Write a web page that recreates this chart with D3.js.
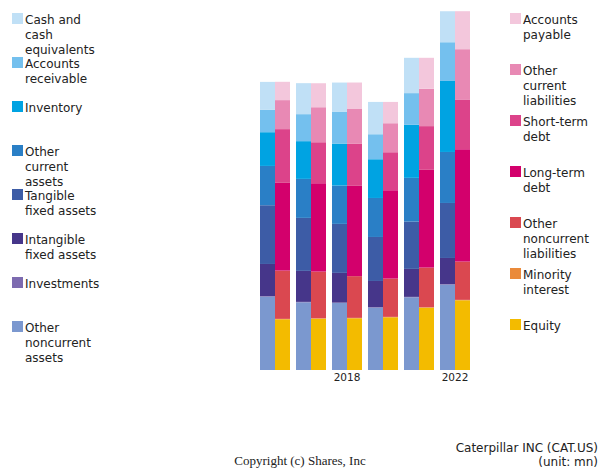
<!DOCTYPE html>
<html>
<head>
<meta charset="utf-8">
<script src="https://cdn.jsdelivr.net/npm/d3@7"></script>
<style>
body { margin: 0; background: #fff; }
svg { display: block; font-family: "DejaVu Sans", sans-serif; }
</style>
</head>
<body>
<script>
var categories = ["p1", "p2", "p3", "p4", "p5", "p6"];
var tickLabels = ["", "", "2018", "", "", "2022"];

// assets, bottom to top (mn)
var otherNoncurrentAssets = [18330, 16930, 16750, 15580, 18180, 21330];
var investments = [100, 100, 100, 100, 100, 100];
var intangibleFixedAssets = [8080, 7750, 7430, 6580, 7000, 6580];
var tangibleFixedAssets = [14680, 13250, 12250, 11000, 11830, 13750];
var otherCurrentAssets = [9830, 9750, 9580, 9750, 10930, 12750];
var inventory = [8430, 9430, 10500, 9680, 13250, 17750];
var accountsReceivable = [5580, 6750, 8000, 6250, 7930, 9680];
var cashAndEquivalents = [7000, 7750, 7250, 8080, 8830, 7750];

// liabilities and equity, bottom to top (mn)
var equity = [12680, 12830, 12930, 13180, 15580, 17430];
var minorityInterest = [100, 100, 100, 100, 100, 100];
var otherNoncurrentLiabilities = [12080, 11680, 10430, 9580, 9930, 9580];
var longTermDebt = [21930, 22080, 22580, 22080, 24430, 28080];
var shortTermDebt = [13430, 10250, 10500, 9500, 10930, 12330];
var otherCurrentLiabilities = [7250, 8750, 8830, 7250, 9330, 12680];
var accountsPayable = [4580, 6000, 6500, 5330, 7750, 9500];

var assetNames = ["Other\nnoncurrent\nassets", "Investments", "Intangible\nfixed assets", "Tangible\nfixed assets", "Other\ncurrent\nassets", "Inventory", "Accounts\nreceivable", "Cash and\ncash\nequivalents"];
var assetSeries = [otherNoncurrentAssets, investments, intangibleFixedAssets, tangibleFixedAssets, otherCurrentAssets, inventory, accountsReceivable, cashAndEquivalents];
var assetColors = ["#7b98cf", "#7d6bb0", "#46368a", "#3d5ca6", "#2a7fc6", "#00a3e2", "#74c0ee", "#c0e0f6"];

var liabNames = ["Equity", "Minority\ninterest", "Other\nnoncurrent\nliabilities", "Long-term\ndebt", "Short-term\ndebt", "Other\ncurrent\nliabilities", "Accounts\npayable"];
var liabSeries = [equity, minorityInterest, otherNoncurrentLiabilities, longTermDebt, shortTermDebt, otherCurrentLiabilities, accountsPayable];
var liabColors = ["#f3bb00", "#ea8a3a", "#da4850", "#d3006c", "#dc438a", "#e889b4", "#f3c7dc"];

function drawChart(){
	var svg = d3.select("body").append("svg").attr("width", 600).attr("height", 470);

	var x = d3.scaleBand().domain(categories).range([260, 470]).paddingInner(1 / 6).paddingOuter(0);
	var y = d3.scaleLinear().domain([0, 89500]).range([370, 12]);
	var half = x.bandwidth() / 2;

	function drawStack(series, colors, offset){
		var rows = categories.map(function(c, i){
			var r = { cat: c };
			series.forEach(function(s, k){ r["s" + k] = s[i]; });
			return r;
		});
		var keys = series.map(function(s, k){ return "s" + k; });
		var stacked = d3.stack().keys(keys)(rows);

		svg.append("g").selectAll("g").data(stacked).enter().append("g")
			.style("fill", function(d, k){ return colors[k]; })
			.selectAll("rect").data(function(d){ return d; }).enter().append("rect")
			.attr("x", function(d){ return x(d.data.cat) + offset; })
			.attr("width", half)
			.attr("y", function(d){ return y(d[1]); })
			.attr("height", function(d){ return y(d[0]) - y(d[1]); });
	}

	drawStack(assetSeries, assetColors, 0);
	drawStack(liabSeries, liabColors, half);

	var axis = d3.axisBottom(x).tickSize(0).tickPadding(4)
		.tickFormat(function(d, i){ return tickLabels[i]; });
	var axisG = svg.append("g").attr("transform", "translate(0,370)").call(axis);
	axisG.select(".domain").remove();
	axisG.selectAll("text").style("font-family", "DejaVu Sans, sans-serif").style("font-size", "10.5px").style("fill", "#222");

	function drawLegend(names, colors, left, top, step){
		var items = names.slice().reverse();
		var cols = colors.slice().reverse();
		var g = svg.append("g");
		items.forEach(function(name, i){
			var ty = top + i * step;
			g.append("rect").attr("x", left).attr("y", ty).attr("width", 11).attr("height", 11).style("fill", cols[i]);
			var t = g.append("text").attr("x", left + 13).attr("y", ty + 11)
				.style("font-size", "12px").style("fill", "#222");
			name.split("\n").forEach(function(line, j){
				t.append("tspan").attr("x", left + 13).attr("dy", j === 0 ? 0 : 15).text(line);
			});
		});
	}

	drawLegend(assetNames, assetColors, 12, 13, 44);
	drawLegend(liabNames, liabColors, 510, 13, 51);

	svg.append("text").attr("x", 598).attr("y", 452).attr("text-anchor", "end")
		.style("font-size", "12px").style("fill", "#222").text("Caterpillar INC (CAT.US)");
	svg.append("text").attr("x", 598).attr("y", 466).attr("text-anchor", "end")
		.style("font-size", "12px").style("fill", "#222").text("(unit: mn)");
	svg.append("text").attr("x", 300).attr("y", 465).attr("text-anchor", "middle")
		.style("font-family", "Liberation Serif, serif").style("font-size", "13px").style("fill", "#222")
		.text("Copyright (c) Shares, Inc");
}

drawChart();
</script>
</body>
</html>
